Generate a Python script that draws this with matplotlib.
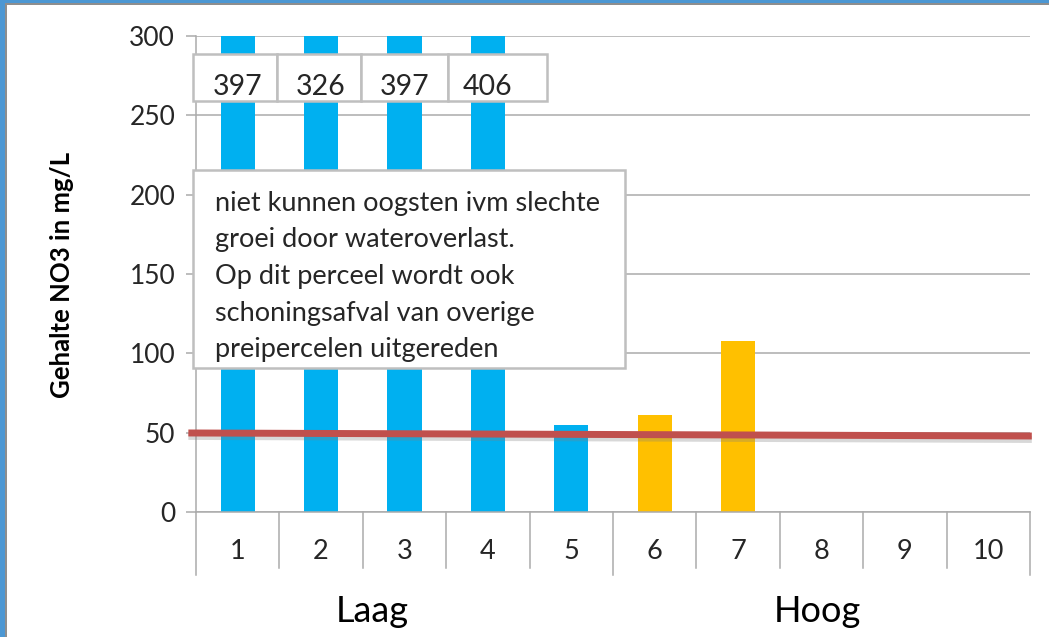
import matplotlib.pyplot as plt
import matplotlib.patheffects as pe
from matplotlib.patches import Rectangle
from matplotlib.transforms import blended_transform_factory

# ------------------------
# Data
# ------------------------
categories = ["1", "2", "3", "4", "5", "6", "7", "8", "9", "10"]
values = [397, 326, 397, 406, 55, 61, 108, 0, 0, 0]
bar_colors = ["#00B0F0"] * 5 + ["#FFC000"] * 5
label_values = ["397", "326", "397", "406"]
groups = ["Laag", "Hoog"]
group_x = [1.61, 6.95]
norm_x = [-0.55, 9.48]
norm_y = [49.8, 47.9]
note_lines = [
    "niet kunnen oogsten ivm slechte",
    "groei door wateroverlast.",
    "Op dit perceel wordt ook",
    "schoningsafval van overige",
    "preipercelen uitgereden",
]

plt.rcParams['font.family'] = ['Lato', 'DejaVu Sans']
grid_col = "#ABABAB"
text_col = "#262626"

fig = plt.figure(figsize=(10.49, 6.37), dpi=100)
ax = fig.add_axes([196 / 1049, 1 - 512 / 637, (1030 - 196) / 1049, (512 - 36) / 637])

x = list(range(len(categories)))
ax.bar(x, values, width=0.41, color=bar_colors, zorder=2)
ax.set_xlim(-0.5, 9.5)
ax.set_ylim(0, 300)
ax.set_yticks(range(0, 301, 50))
ax.yaxis.grid(True, color=grid_col, lw=1.1, zorder=0)
ax.tick_params(axis='y', length=7, width=1.1, color=grid_col, labelsize=19, pad=8, labelcolor=text_col)
ax.set_xticks([])
for s in ["top", "right"]:
    ax.spines[s].set_visible(False)
for s in ["left", "bottom"]:
    ax.spines[s].set_color(grid_col)
    ax.spines[s].set_linewidth(1.1)

# norm line with shadow
ax.plot(norm_x, norm_y, color="#C0504D", lw=5, clip_on=False, zorder=4,
        path_effects=[pe.SimpleLineShadow(offset=(0, -2.5), shadow_color="gray", alpha=0.3),
                      pe.Normal()])

# category axis (table-like)
tr = blended_transform_factory(ax.transData, ax.transAxes)
for i in range(len(categories) + 1):
    bottom = -0.132 if i in (0, 5, 10) else -0.118
    ax.plot([i - 0.5, i - 0.5], [0, bottom], color=grid_col, lw=1.1, transform=tr, clip_on=False)
for i, c in enumerate(categories):
    ax.text(i, -0.082, c, transform=tr, ha="center", va="center", fontsize=19.5, color=text_col)
for g, gx in zip(groups, group_x):
    ax.text(gx, -0.208, g, transform=tr, ha="center", va="center", fontsize=26, color="black")

# value boxes for the cut-off bars
cell_edges = [-0.0036, 0.0971, 0.1978, 0.3022, 0.4209]
for j, v in enumerate(label_values):
    ax.add_patch(Rectangle((cell_edges[j], 0.863), cell_edges[j + 1] - cell_edges[j], 0.099,
                           transform=ax.transAxes, facecolor="white", edgecolor="#BFBFBF",
                           lw=1.8, zorder=5, clip_on=False))
    ax.text(j, 0.893, v, transform=tr, ha="center", va="center", fontsize=20.5,
            color=text_col, zorder=6)

# note box
ax.add_patch(Rectangle((-0.0036, 0.3025), 0.518, 0.416, transform=ax.transAxes,
                       facecolor="white", edgecolor="#BFBFBF", lw=1.8, zorder=5, clip_on=False))
for k, line in enumerate(note_lines):
    ax.text(0.0228, 0.649 - k * 0.0771, line, transform=ax.transAxes, ha="left", va="center",
            fontsize=19.5, color=text_col, zorder=6)

fig.text(62 / 1049, 1 - 275 / 637, "Gehalte NO3 in mg/L", rotation=90, ha="center", va="center",
         fontsize=18.5, fontweight="bold", color="black")

# slide frame
fig.patches.append(Rectangle((0, 1 - 3 / 637), 1, 3 / 637, transform=fig.transFigure,
                             facecolor="#4C97D3", edgecolor="none"))
fig.patches.append(Rectangle((0, 1 - 5 / 637), 1, 2 / 637, transform=fig.transFigure,
                             facecolor="#8E8E8E", edgecolor="none"))
fig.patches.append(Rectangle((0, 0), 5 / 1049, 1, transform=fig.transFigure,
                             facecolor="#4C97D3", edgecolor="none"))
fig.patches.append(Rectangle((5 / 1049, 0), 2 / 1049, 1 - 3 / 637, transform=fig.transFigure,
                             facecolor="#8E8E8E", edgecolor="none"))

fig.savefig("out.png", dpi=100)
